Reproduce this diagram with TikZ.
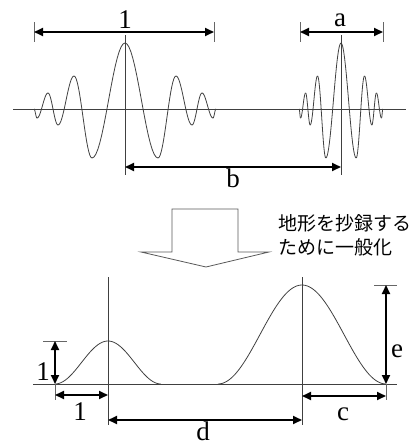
\documentclass[tikz,border=0pt]{standalone}
\usepackage{fontspec}
\setmainfont{Liberation Serif}
\newfontfamily\jpfont{Noto Sans CJK JP}
\usetikzlibrary{arrows.meta}
\begin{document}
\begin{tikzpicture}[x=1pt,y=-1pt,
  thinline/.style={line width=0.8pt,draw=black!75},
  wave/.style={line width=0.8pt,draw=black!75},
  tickline/.style={line width=0.8pt,draw=black!60},
  dim/.style={line width=1.8pt,draw=black,{Triangle[length=9pt,width=8pt]}-{Triangle[length=9pt,width=8pt]}},
  lbl/.style={font=\fontsize{27}{30}\selectfont,anchor=base,inner sep=0pt},
  jp/.style={font=\jpfont\fontsize{19}{24}\selectfont,anchor=base west,inner sep=0pt},
  blockarrow/.style={line width=0.8pt,draw=black!65}]
\useasboundingbox (0,0) rectangle (420,447);
% ---------- top: wavelets ----------
\coordinate (axTL) at (13,109); \coordinate (axTR) at (406,109);
\draw[thinline] (axTL) -- (axTR);
\coordinate (vLt) at (125,35); \coordinate (vLb) at (125,175);
\coordinate (vRt) at (341,35); \coordinate (vRb) at (341,175);
\draw[thinline] (vLt) -- (vLb);
\draw[thinline] (vRt) -- (vRb);
\foreach \cx/\sc in {125/1, 341/0.46}{
  \foreach \ax/\ay/\bx/\by in {-91/109/-88/118, -88/118/-77/93, -77/93/-67/125, -67/125/-51/76, -51/76/-33/158, -33/158/0/43, 0/43/33/158, 33/158/51/76, 51/76/67/125, 67/125/77/93, 77/93/88/118, 88/118/91/109}
    \draw[wave] plot[domain=0:1,samples=18,variable=\t] ({\cx+\sc*(\ax+(\bx-\ax)*\t)},{\ay+(\by-\ay)*(1-cos(180*\t))/2});
}
% dimension 1 (top)
\coordinate (t1a) at (34,32); \coordinate (t1b) at (214,32);
\draw[tickline] (34,22) -- (34,42);
\draw[tickline] (214,22) -- (214,42);
\draw[dim] (t1a) -- (t1b);
\node[lbl] (l1top) at (125,28) {1};
% dimension a
\coordinate (ta) at (300,32); \coordinate (tb) at (383,32);
\draw[tickline] (300,22) -- (300,42);
\draw[tickline] (383,22) -- (383,42);
\draw[dim] (ta) -- (tb);
\node[lbl] (la) at (340,27) {a};
% dimension b
\coordinate (ba) at (125,167); \coordinate (bb) at (341,167);
\draw[dim] (ba) -- (bb);
\node[lbl] (lb) at (233,187) {b};
% ---------- block arrow ----------
\draw[blockarrow] (172,252) -- (172,209) -- (238,209) -- (238,252) -- (269,252) -- (206,267) -- (141,252) -- cycle;
\node[jp] (jp1) at (278,230) {地形を抄録する};
\node[jp] (jp2) at (278,254) {ために一般化};
% ---------- bottom: bells ----------
\coordinate (axBL) at (33,384); \coordinate (axBR) at (397,384);
\draw[thinline] (axBL) -- (axBR);
\coordinate (wLt) at (108,277); \coordinate (wLb) at (108,425);
\coordinate (wRt) at (302,277); \coordinate (wRb) at (302,425);
\draw[thinline] (wLt) -- (wLb);
\draw[thinline] (wRt) -- (wRb);
\draw[wave] plot[domain=-1:1,samples=60,variable=\t] ({108+53*\t},{384-43*(1+cos(180*\t))/2});
\draw[wave] plot[domain=-1:1,samples=80,variable=\t] ({302+84*\t},{384-99*(1+cos(180*\t))/2});
% dimension 1 vertical
\draw[tickline] (43,341) -- (67,341);
\coordinate (v1a) at (55,341); \coordinate (v1b) at (55,384);
\draw[dim] (v1a) -- (v1b);
\node[lbl] (l1v) at (43,380) {1};
% dimension 1 horizontal
\draw[tickline] (55,384) -- (55,400);
\coordinate (h1a) at (55,395); \coordinate (h1b) at (108,395);
\draw[dim] (h1a) -- (h1b);
\node[lbl] (l1h) at (80,420) {1};
% dimension d
\coordinate (da) at (108,420); \coordinate (db) at (302,420);
\draw[dim] (da) -- (db);
\node[lbl] (ld) at (203,440) {d};
% dimension e
\draw[tickline] (374,285) -- (397,285);
\coordinate (ea) at (386,285); \coordinate (eb) at (386,384);
\draw[dim] (ea) -- (eb);
\node[lbl] (le) at (397,357) {e};
% dimension c
\draw[tickline] (386,384) -- (386,400);
\coordinate (ca) at (302,396); \coordinate (cb) at (386,396);
\draw[dim] (ca) -- (cb);
\node[lbl] (lc) at (343,420) {c};
\end{tikzpicture}
\end{document}
